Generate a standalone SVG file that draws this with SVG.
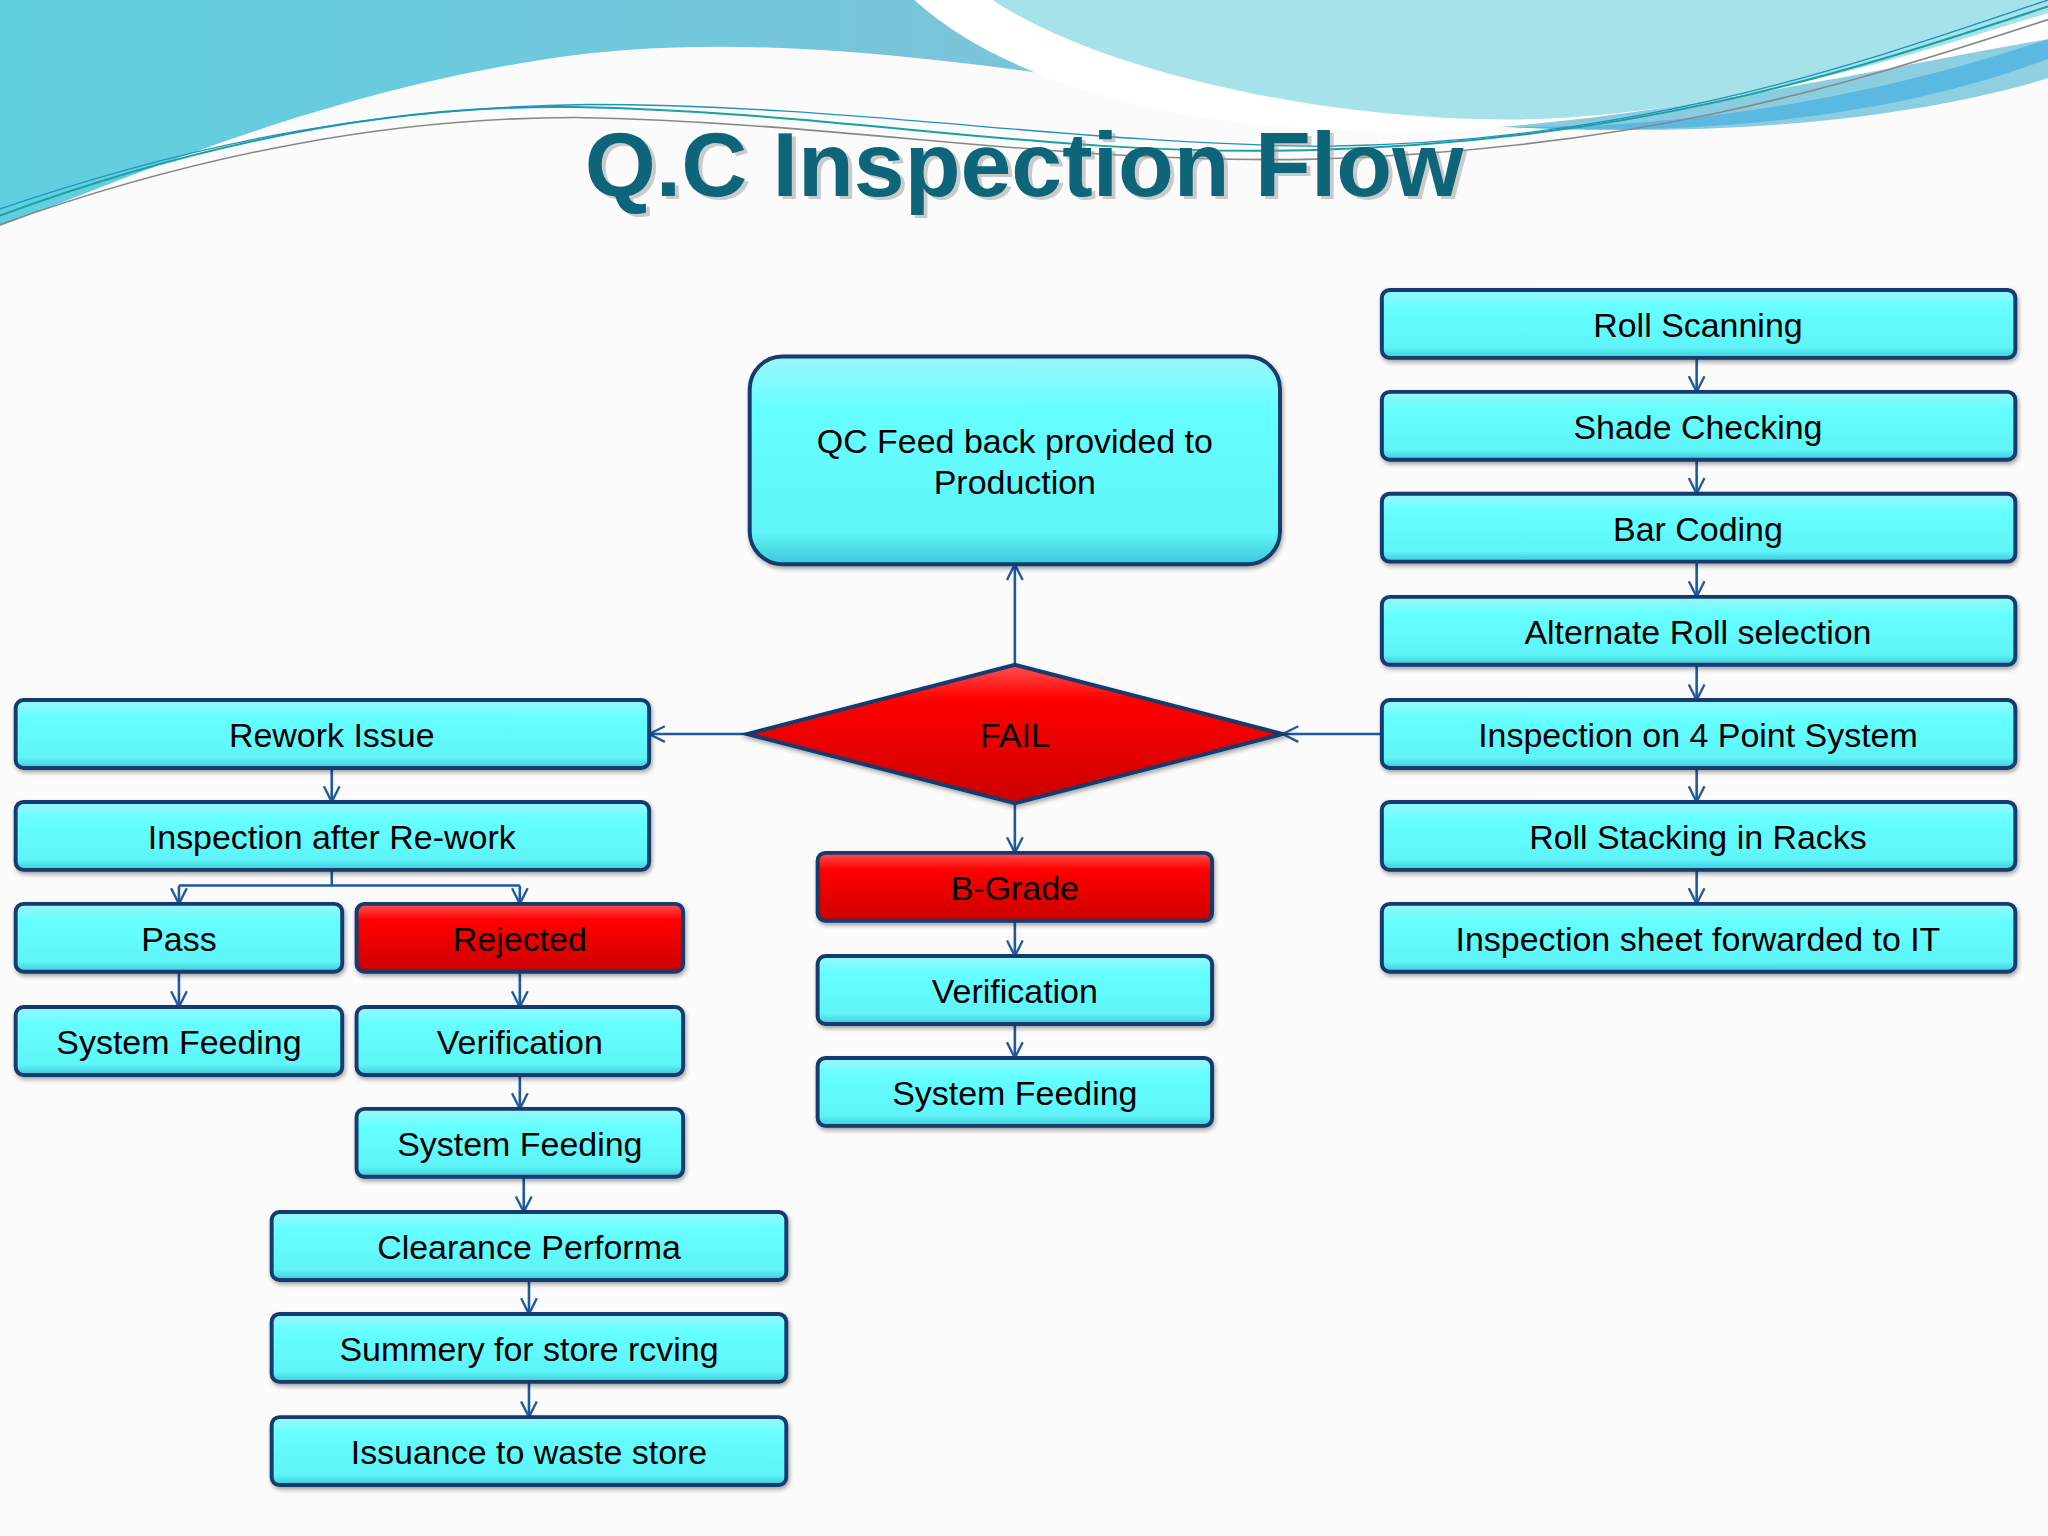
<svg xmlns="http://www.w3.org/2000/svg" width="2048" height="1536" viewBox="0 0 2048 1536">
<defs>
<linearGradient id="bg1" x1="0" y1="0" x2="1" y2="0"><stop offset="0" stop-color="#5fcfdf"/><stop offset="0.5" stop-color="#7cc4da"/><stop offset="1" stop-color="#8fd0e2"/></linearGradient>
<linearGradient id="cy" x1="0" y1="0" x2="0" y2="1"><stop offset="0" stop-color="#9af6fb"/><stop offset="0.25" stop-color="#66ffff"/><stop offset="0.85" stop-color="#5ef4f8"/><stop offset="1" stop-color="#3cc8d8"/></linearGradient>
<linearGradient id="rd" x1="0" y1="0" x2="0" y2="1"><stop offset="0" stop-color="#ff5050"/><stop offset="0.25" stop-color="#ff0000"/><stop offset="1" stop-color="#cc0000"/></linearGradient>
<marker id="ah" viewBox="0 0 14 14" refX="13" refY="7" markerWidth="14" markerHeight="14" markerUnits="userSpaceOnUse" orient="auto"><path d="M1,1 L13,7 L1,13" fill="none" stroke="#1f5aa0" stroke-width="1.8"/></marker>
<filter id="sh" x="-10%" y="-10%" width="120%" height="130%"><feDropShadow dx="1" dy="2" stdDeviation="1.5" flood-color="#000" flood-opacity="0.35"/></filter>
</defs>
<style>
.b{fill:url(#cy);stroke:#123a6e;stroke-width:3;filter:url(#sh)}
.r{fill:url(#rd);stroke:#123a6e;stroke-width:3;filter:url(#sh)}
.t{font-family:"Liberation Sans",Arial,sans-serif;font-size:26px;fill:#000;text-anchor:middle;dominant-baseline:central}
.c{fill:none;stroke:#1f5aa0;stroke-width:2;marker-end:url(#ah)}
.l{fill:none;stroke:#1f5aa0;stroke-width:2}
</style>
<g transform="scale(1.30612)">
<rect width="1568" height="1176" fill="#fbfbfb"/>
<g id="background">
<path d="M0,0 H1568 V60 C1450,95 1300,105 1150,97 C900,85 650,10 420,45 C240,72 90,140 0,173 Z" fill="url(#bg1)"/>
<path d="M700,0 C800,90 1000,110 1150,97 C1300,85 1450,50 1568,30 V0 Z" fill="#ffffff"/>
<path d="M760,0 C850,60 1050,100 1200,90 C1350,80 1470,40 1568,10 V0 Z" fill="#a6e2ea"/>
<path d="M1150,97 C1300,100 1450,70 1568,30 V45 C1450,90 1300,105 1150,97 Z" fill="#5bb8e0"/>
<path d="M0,165 C150,110 300,80 440,82 C650,86 800,120 1000,115 C1250,108 1400,60 1568,5" fill="none" stroke="#1aa0a0" stroke-width="1.5"/>
<path d="M0,172 C150,118 300,90 440,90 C650,94 800,125 1000,122 C1250,115 1400,70 1568,15" fill="none" stroke="#888" stroke-width="1.2"/>
<path d="M0,160 C160,105 300,82 450,80 C650,80 820,110 1010,112 C1250,110 1420,50 1568,0" fill="none" stroke="#2090c0" stroke-width="1"/>
</g>
<text x="787" y="152" font-family="'Liberation Sans',Arial,sans-serif" font-weight="bold" font-size="70" fill="#999" fill-opacity="0.5" text-anchor="middle">Q.C Inspection Flow</text>
<text x="784" y="150" font-family="'Liberation Sans',Arial,sans-serif" font-weight="bold" font-size="70" fill="#0e6478" text-anchor="middle">Q.C Inspection Flow</text>
<g id="connectors">
<path class="c" d="M1299,274 V300"/>
<path class="c" d="M1299,352 V378"/>
<path class="c" d="M1299,430 V457"/>
<path class="c" d="M1299,509 V536"/>
<path class="c" d="M1299,588 V614"/>
<path class="c" d="M1299,666 V692"/>
<path class="c" d="M1058,562 H982"/>
<path class="c" d="M572,562 H497"/>
<path class="c" d="M777,509 V432"/>
<path class="c" d="M777,615 V653"/>
<path class="c" d="M777,705 V732"/>
<path class="c" d="M777,784 V810"/>
<path class="c" d="M254,588 V614"/>
<path class="l" d="M254,666 V678 M137,678 H398"/>
<path class="c" d="M137,678 V692"/>
<path class="c" d="M398,678 V692"/>
<path class="c" d="M137,744 V771"/>
<path class="c" d="M398,744 V771"/>
<path class="c" d="M398,823 V849"/>
<path class="c" d="M401,901 V928"/>
<path class="c" d="M405,980 V1006"/>
<path class="c" d="M405,1058 V1085"/>
</g>
<g id="n-rollscan"><rect class="b" x="1058" y="222" width="485" height="52" rx="6"/><text class="t" x="1300" y="249">Roll Scanning</text></g>
<g id="n-shade"><rect class="b" x="1058" y="300" width="485" height="52" rx="6"/><text class="t" x="1300" y="327">Shade Checking</text></g>
<g id="n-bar"><rect class="b" x="1058" y="378" width="485" height="52" rx="6"/><text class="t" x="1300" y="405">Bar Coding</text></g>
<g id="n-alt"><rect class="b" x="1058" y="457" width="485" height="52" rx="6"/><text class="t" x="1300" y="484">Alternate Roll selection</text></g>
<g id="n-insp4"><rect class="b" x="1058" y="536" width="485" height="52" rx="6"/><text class="t" x="1300" y="563">Inspection on 4 Point System</text></g>
<g id="n-stack"><rect class="b" x="1058" y="614" width="485" height="52" rx="6"/><text class="t" x="1300" y="641">Roll Stacking in Racks</text></g>
<g id="n-sheet"><rect class="b" x="1058" y="692" width="485" height="52" rx="6"/><text class="t" x="1300" y="719">Inspection sheet forwarded to IT</text></g>
<g id="n-qcfb"><rect class="b" x="574" y="273" width="406" height="159" rx="25"/><text class="t" x="777" y="338">QC Feed back provided to</text><text class="t" x="777" y="369">Production</text></g>
<g id="n-fail"><polygon class="r" points="572,562 777,509 982,562 777,615"/><text class="t" x="777" y="563">FAIL</text></g>
<g id="n-rework"><rect class="b" x="12" y="536" width="485" height="52" rx="6"/><text class="t" x="254" y="563">Rework Issue</text></g>
<g id="n-inspre"><rect class="b" x="12" y="614" width="485" height="52" rx="6"/><text class="t" x="254" y="641">Inspection after Re-work</text></g>
<g id="n-pass"><rect class="b" x="12" y="692" width="250" height="52" rx="6"/><text class="t" x="137" y="719">Pass</text></g>
<g id="n-rej"><rect class="r" x="273" y="692" width="250" height="52" rx="6"/><text class="t" x="398" y="719">Rejected</text></g>
<g id="n-sf1"><rect class="b" x="12" y="771" width="250" height="52" rx="6"/><text class="t" x="137" y="798">System Feeding</text></g>
<g id="n-ver1"><rect class="b" x="273" y="771" width="250" height="52" rx="6"/><text class="t" x="398" y="798">Verification</text></g>
<g id="n-sf2"><rect class="b" x="273" y="849" width="250" height="52" rx="6"/><text class="t" x="398" y="876">System Feeding</text></g>
<g id="n-clear"><rect class="b" x="208" y="928" width="394" height="52" rx="6"/><text class="t" x="405" y="955">Clearance Performa</text></g>
<g id="n-summ"><rect class="b" x="208" y="1006" width="394" height="52" rx="6"/><text class="t" x="405" y="1033">Summery for store rcving</text></g>
<g id="n-iss"><rect class="b" x="208" y="1085" width="394" height="52" rx="6"/><text class="t" x="405" y="1112">Issuance to waste store</text></g>
<g id="n-bgrade"><rect class="r" x="626" y="653" width="302" height="52" rx="6"/><text class="t" x="777" y="680">B-Grade</text></g>
<g id="n-ver2"><rect class="b" x="626" y="732" width="302" height="52" rx="6"/><text class="t" x="777" y="759">Verification</text></g>
<g id="n-sf3"><rect class="b" x="626" y="810" width="302" height="52" rx="6"/><text class="t" x="777" y="837">System Feeding</text></g>
</g>
</svg>
